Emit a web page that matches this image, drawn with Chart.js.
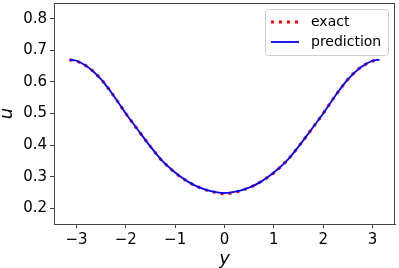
<!DOCTYPE html>
<html>
<head>
<meta charset="utf-8">
<script src="https://cdn.jsdelivr.net/npm/chart.js@4"></script>
<style>
  html, body { margin: 0; padding: 0; background: #fff; }
  #wrap { width: 399px; height: 268px; }
</style>
</head>
<body>
<div id="wrap"><canvas id="chart"></canvas></div>
<script>
/**
 * Data
 */
const yValues = [-3.1416, -3, -2.75, -2.5, -2.25, -2, -1.75, -1.5, -1.25, -1, -0.75, -0.5, -0.25,
    0, 0.25, 0.5, 0.75, 1, 1.25, 1.5, 1.75, 2, 2.25, 2.5, 2.75, 3, 3.1416];
const exactU = [0.670, 0.666, 0.645, 0.608, 0.557, 0.500, 0.447, 0.395, 0.348, 0.312, 0.285, 0.265, 0.252,
    0.246, 0.252, 0.265, 0.285, 0.312, 0.348, 0.395, 0.447, 0.500, 0.557, 0.608, 0.645, 0.666, 0.670];
const predictionU = [0.671, 0.667, 0.645, 0.608, 0.557, 0.500, 0.447, 0.395, 0.348, 0.313, 0.285, 0.265, 0.253,
    0.248, 0.253, 0.265, 0.285, 0.313, 0.348, 0.395, 0.447, 0.500, 0.557, 0.608, 0.645, 0.667, 0.671];
const xTicks = [-3, -2, -1, 0, 1, 2, 3];
const uTicks = [0.2, 0.3, 0.4, 0.5, 0.6, 0.7, 0.8];

/**
 * Helpers
 */
const pts = (xs, ys) => xs.map((x, i) => ({ x: x, y: ys[i] }));
const minus = v => (v < 0 ? '\u2212' + Math.abs(v) : String(v));
const font = "'DejaVu Sans', sans-serif";

/**
 * Frame (top and right spines)
 */
const frame = {
    id: 'frame',
    afterDatasetsDraw(chart) {
        const { ctx, chartArea: a } = chart;
        ctx.save();
        ctx.strokeStyle = '#444';
        ctx.lineWidth = 1;
        ctx.strokeRect(a.left + 0.5, a.top + 0.5, a.right - a.left - 1, a.bottom - a.top);
        ctx.restore();
    }
};

/**
 * Legend box (matplotlib style, upper right)
 */
const legendBox = {
    id: 'legendBox',
    afterDraw(chart) {
        const ctx = chart.ctx;
        const bx = 265, by = 9, bw = 123, bh = 46;
        ctx.save();
        ctx.fillStyle = 'rgba(255,255,255,0.8)';
        ctx.strokeStyle = '#d0d0d0';
        ctx.lineWidth = 1;
        ctx.beginPath();
        ctx.roundRect(bx + 0.5, by + 0.5, bw, bh, 3);
        ctx.fill();
        ctx.stroke();

        chart.data.datasets.forEach((ds, i) => {
            const ly = 22 + i * 20;
            ctx.beginPath();
            ctx.strokeStyle = ds.borderColor;
            ctx.lineWidth = ds.borderWidth;
            ctx.setLineDash(ds.borderDash || []);
            ctx.moveTo(271, ly);
            ctx.lineTo(299, ly);
            ctx.stroke();
            ctx.setLineDash([]);
            ctx.fillStyle = '#000';
            ctx.font = '14px ' + font;
            ctx.textBaseline = 'middle';
            ctx.fillText(ds.label, 311, ly);
        });
        ctx.restore();
    }
};

/**
 * Chart
 */
new Chart(document.getElementById('chart'), {
    type: 'line',
    data: {
        datasets: [
            {
                label: 'exact',
                data: pts(yValues, exactU),
                borderColor: '#ff0000',
                borderWidth: 3,
                borderDash: [3, 5],
                pointRadius: 0,
                cubicInterpolationMode: 'monotone',
                order: 2
            },
            {
                label: 'prediction',
                data: pts(yValues, predictionU),
                borderColor: '#0000ff',
                borderWidth: 1.8,
                pointRadius: 0,
                cubicInterpolationMode: 'monotone',
                order: 1
            }
        ]
    },
    options: {
        responsive: true,
        maintainAspectRatio: false,
        animation: false,
        layout: { padding: { top: 3, right: 4, left: 0, bottom: 0 } },
        plugins: {
            legend: { display: false },
            tooltip: { enabled: false }
        },
        scales: {
            x: {
                type: 'linear',
                min: -3.456,
                max: 3.456,
                afterBuildTicks: axis => { axis.ticks = xTicks.map(v => ({ value: v })); },
                afterFit: axis => { axis.height = 44; axis.paddingLeft = 0; axis.paddingRight = 0; },
                grid: { drawOnChartArea: false, tickLength: 4, color: '#444' },
                border: { display: true, color: '#444', width: 1 },
                ticks: {
                    padding: 3,
                    color: '#000',
                    maxRotation: 0,
                    font: { family: font, size: 15 },
                    callback: v => minus(v)
                },
                title: {
                    display: true,
                    text: 'y',
                    color: '#000',
                    padding: { top: 0, bottom: 0 },
                    font: { family: font, size: 18, style: 'italic', lineHeight: 1 }
                }
            },
            y: {
                type: 'linear',
                min: 0.15,
                max: 0.85,
                afterBuildTicks: axis => { axis.ticks = uTicks.map(v => ({ value: v })); },
                afterFit: axis => { axis.width = 54; axis.paddingTop = 0; axis.paddingBottom = 0; },
                grid: { drawOnChartArea: false, tickLength: 4, color: '#444' },
                border: { display: true, color: '#444', width: 1 },
                ticks: {
                    padding: 3,
                    color: '#000',
                    font: { family: font, size: 15 },
                    callback: v => v.toFixed(1)
                },
                title: {
                    display: true,
                    text: 'u',
                    color: '#000',
                    padding: { top: 0, bottom: 0 },
                    font: { family: font, size: 18, style: 'italic', lineHeight: 0.8 }
                }
            }
        }
    },
    plugins: [frame, legendBox]
});
</script>
</body>
</html>
